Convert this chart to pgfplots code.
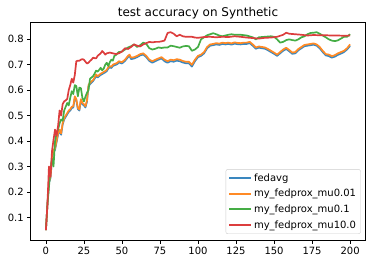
\documentclass[border=0pt]{standalone}
\usepackage{pgfplots}
\pgfplotsset{compat=1.18}
\usepackage{fontspec}
\setmainfont{DejaVu Sans}
\definecolor{mplblue}{HTML}{3A87BF}
\definecolor{mplorange}{HTML}{FF8A25}
\definecolor{mplgreen}{HTML}{45AD45}
\definecolor{mplred}{HTML}{DC3D3D}
\begin{document}
\begin{tikzpicture}
\begin{axis}[
  name=ax,
  scale only axis, width=334.6bp, height=217.7bp,
  xmin=-10, xmax=210, ymin=0.011, ymax=0.867,
  xtick={0,25,...,200},
  ytick={0.1,0.2,0.3,0.4,0.5,0.6,0.7,0.8},
  yticklabel style={/pgf/number format/fixed, /pgf/number format/precision=1},
  /pgf/number format/assume math mode=true,
  tick label style={font=\fontsize{10bp}{12bp}\selectfont},
  tick align=outside, major tick length=3.5bp,
  xtick pos=bottom, ytick pos=left,
  axis line style={line width=0.8bp},
  every tick/.style={black, line width=0.8bp},
  title={test accuracy on Synthetic},
  title style={font=\fontsize{12bp}{14bp}\selectfont, at={(0.5,1)}, anchor=base, yshift=-0.4bp, inner sep=0pt},
  legend style={at={(0.9863,0.0276)}, anchor=south east, draw=black!20, rounded corners=2bp, fill=white, font=\fontsize{10bp}{12bp}\selectfont, row sep=2.5bp, inner xsep=2.5bp, inner ysep=2.3bp},
  legend cell align=left,
  legend image code/.code={\draw[#1, line width=2bp] (0bp,0bp) -- (21.7bp,0bp);},
]
\addplot[color=mplblue, line width=1.7bp, line join=round] coordinates {
(0,0.05)(1,0.15)(2,0.235)(3,0.255)(4,0.325)(5,0.36)(6,0.365)(7,0.395)(8,0.425)(9,0.44)(10,0.425)(11,0.465)(12,0.485)(13,0.495)(14,0.505)(15,0.515)(16,0.52)(17,0.53)(18,0.532)(19,0.57)(20,0.56)(21,0.526)(22,0.52)(23,0.56)(24,0.545)(25,0.54)(26,0.532)(27,0.555)(28,0.615)(29,0.624)(30,0.63)(31,0.636)(32,0.645)(33,0.656)(34,0.65)(35,0.655)(36,0.66)(37,0.663)(38,0.667)(39,0.67)(40,0.675)(41,0.685)(42,0.69)(43,0.687)(44,0.695)(45,0.698)(46,0.70)(47,0.703)(48,0.709)(50,0.705)(52,0.715)(54,0.73)(55,0.735)(56,0.722)(58,0.725)(60,0.73)(62,0.737)(64,0.74)(66,0.73)(68,0.715)(70,0.708)(72,0.714)(74,0.72)(76,0.725)(78,0.714)(80,0.708)(82,0.714)(84,0.712)(86,0.716)(88,0.714)(90,0.709)(92,0.706)(94,0.706)(96,0.693)(98,0.714)(100,0.73)(102,0.735)(104,0.745)(106,0.765)(108,0.775)(110,0.777)(112,0.78)(114,0.778)(116,0.782)(118,0.78)(120,0.782)(122,0.779)(124,0.783)(126,0.781)(128,0.78)(130,0.782)(132,0.782)(134,0.785)(136,0.775)(138,0.763)(140,0.767)(142,0.765)(144,0.763)(146,0.757)(148,0.75)(150,0.743)(152,0.735)(154,0.745)(156,0.755)(158,0.762)(160,0.753)(162,0.743)(164,0.745)(166,0.757)(168,0.765)(170,0.773)(172,0.775)(174,0.777)(176,0.779)(178,0.775)(180,0.765)(182,0.75)(184,0.737)(186,0.734)(188,0.728)(190,0.732)(192,0.739)(194,0.744)(196,0.75)(198,0.76)(200,0.774)
};
\addlegendentry{fedavg}
\addplot[color=mplorange, line width=1.7bp, line join=round] coordinates {
(0,0.05)(1,0.15)(2,0.24)(3,0.26)(4,0.33)(5,0.366)(6,0.37)(7,0.40)(8,0.43)(9,0.445)(10,0.43)(11,0.47)(12,0.49)(13,0.50)(14,0.51)(15,0.52)(16,0.525)(17,0.535)(18,0.537)(19,0.576)(20,0.565)(21,0.53)(22,0.524)(23,0.565)(24,0.55)(25,0.545)(26,0.537)(27,0.56)(28,0.62)(29,0.629)(30,0.635)(31,0.64)(32,0.65)(33,0.662)(34,0.655)(35,0.66)(36,0.665)(37,0.668)(38,0.672)(39,0.675)(40,0.68)(41,0.69)(42,0.695)(43,0.692)(44,0.70)(45,0.703)(46,0.705)(47,0.708)(48,0.714)(50,0.71)(52,0.72)(54,0.735)(55,0.74)(56,0.728)(58,0.73)(60,0.735)(62,0.742)(64,0.745)(66,0.735)(68,0.72)(70,0.714)(72,0.72)(74,0.725)(76,0.73)(78,0.72)(80,0.714)(82,0.72)(84,0.718)(86,0.722)(88,0.72)(90,0.715)(92,0.712)(94,0.712)(96,0.70)(98,0.72)(100,0.735)(102,0.74)(104,0.75)(106,0.77)(108,0.78)(110,0.782)(112,0.785)(114,0.783)(116,0.787)(118,0.785)(120,0.787)(122,0.784)(124,0.788)(126,0.786)(128,0.785)(130,0.787)(132,0.787)(134,0.79)(136,0.78)(138,0.768)(140,0.772)(142,0.77)(144,0.768)(146,0.762)(148,0.755)(150,0.748)(152,0.74)(154,0.75)(156,0.76)(158,0.767)(160,0.758)(162,0.748)(164,0.75)(166,0.762)(168,0.77)(170,0.778)(172,0.78)(174,0.782)(176,0.784)(178,0.78)(180,0.77)(182,0.755)(184,0.742)(186,0.74)(188,0.734)(190,0.738)(192,0.745)(194,0.75)(196,0.755)(198,0.765)(200,0.78)
};
\addlegendentry{my\_fedprox\_mu0.01}
\addplot[color=mplgreen, line width=1.7bp, line join=round] coordinates {
(0,0.05)(1,0.15)(2,0.22)(3,0.29)(4,0.33)(5,0.30)(6,0.40)(7,0.43)(8,0.445)(9,0.47)(10,0.485)(11,0.48)(12,0.52)(13,0.535)(14,0.55)(15,0.54)(16,0.57)(17,0.596)(18,0.585)(19,0.62)(20,0.616)(21,0.576)(22,0.61)(23,0.608)(24,0.57)(25,0.556)(26,0.575)(27,0.59)(28,0.60)(29,0.645)(30,0.65)(31,0.655)(32,0.665)(33,0.677)(34,0.673)(35,0.68)(36,0.688)(37,0.678)(38,0.685)(39,0.70)(40,0.708)(41,0.695)(42,0.71)(43,0.72)(44,0.716)(45,0.735)(46,0.738)(47,0.745)(48,0.75)(50,0.752)(52,0.76)(54,0.768)(56,0.773)(58,0.78)(60,0.77)(62,0.777)(64,0.787)(66,0.782)(68,0.765)(70,0.76)(72,0.763)(74,0.768)(76,0.766)(78,0.768)(80,0.768)(82,0.775)(84,0.773)(86,0.77)(88,0.767)(90,0.772)(92,0.774)(94,0.773)(96,0.755)(98,0.76)(100,0.77)(102,0.80)(104,0.808)(106,0.816)(108,0.82)(110,0.824)(112,0.82)(114,0.815)(116,0.812)(118,0.815)(120,0.818)(122,0.82)(124,0.818)(128,0.818)(132,0.815)(136,0.808)(138,0.80)(140,0.808)(144,0.81)(148,0.812)(150,0.81)(152,0.80)(154,0.787)(156,0.79)(158,0.797)(160,0.80)(162,0.797)(164,0.795)(166,0.80)(168,0.808)(170,0.812)(172,0.82)(174,0.825)(176,0.826)(178,0.828)(180,0.822)(182,0.815)(184,0.808)(186,0.80)(188,0.795)(190,0.793)(192,0.796)(194,0.803)(196,0.81)(198,0.81)(200,0.82)
};
\addlegendentry{my\_fedprox\_mu0.1}
\addplot[color=mplred, line width=1.7bp, line join=round] coordinates {
(0,0.05)(1,0.15)(2,0.30)(3,0.26)(4,0.36)(5,0.405)(6,0.445)(7,0.42)(8,0.46)(9,0.52)(10,0.50)(11,0.545)(12,0.556)(13,0.56)(14,0.565)(15,0.60)(16,0.62)(17,0.645)(18,0.63)(19,0.66)(20,0.714)(21,0.716)(22,0.716)(23,0.72)(24,0.722)(25,0.72)(26,0.712)(27,0.705)(28,0.708)(29,0.715)(30,0.72)(31,0.728)(32,0.726)(33,0.725)(34,0.735)(35,0.74)(36,0.745)(37,0.754)(38,0.748)(39,0.74)(40,0.745)(42,0.748)(44,0.745)(46,0.742)(48,0.745)(50,0.752)(52,0.765)(54,0.762)(56,0.77)(58,0.78)(60,0.775)(62,0.772)(64,0.78)(66,0.785)(68,0.79)(70,0.788)(72,0.79)(74,0.79)(76,0.792)(78,0.795)(80,0.825)(82,0.828)(84,0.822)(86,0.812)(88,0.818)(90,0.812)(92,0.81)(94,0.81)(96,0.81)(98,0.807)(100,0.806)(104,0.809)(108,0.81)(112,0.808)(116,0.81)(120,0.809)(124,0.812)(128,0.81)(132,0.807)(136,0.805)(140,0.803)(144,0.806)(148,0.807)(152,0.81)(156,0.818)(158,0.826)(160,0.822)(164,0.82)(168,0.818)(172,0.815)(176,0.817)(180,0.816)(184,0.816)(188,0.815)(192,0.815)(196,0.814)(200,0.815)
};
\addlegendentry{my\_fedprox\_mu10.0}
\end{axis}
\pgfresetboundingbox
\path ([shift={(-30.7bp,-24bp)}]ax.south west) rectangle ([shift={(6.7bp,22.3bp)}]ax.north east);
\end{tikzpicture}
\end{document}
